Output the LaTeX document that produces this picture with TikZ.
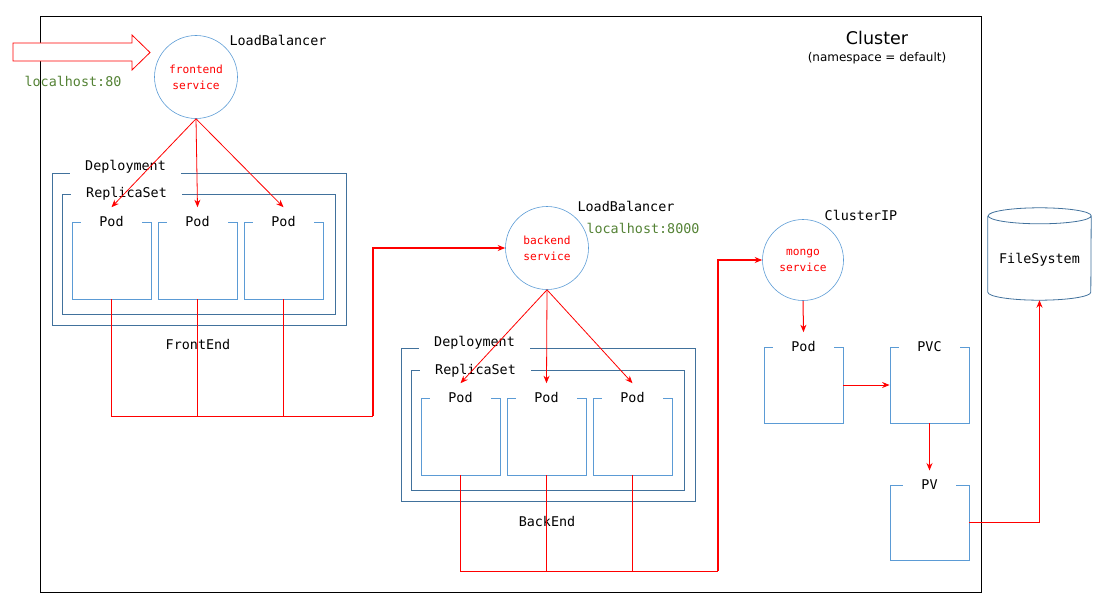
\documentclass[tikz,border=0pt]{standalone}
\usepackage{fontspec}
\setmainfont{DejaVu Sans}
\setmonofont{DejaVu Sans Mono}
\usepackage{xcolor}
\usetikzlibrary{
		positioning,
		arrows.meta
	}
\tikzset{
		>={Stealth[length=7.5pt, width=6pt]}
	}
\definecolor{podblue}{HTML}{5B9BD5}
\definecolor{depblue}{HTML}{41719C}
\definecolor{hostgreen}{HTML}{548235}

\begin{document}
\begin{tikzpicture}[x=1pt, y=-1pt,
		mono/.style={font=\ttfamily\fontsize{13.4}{16}\selectfont, inner sep=2pt},
		gap/.style={mono, fill=white, inner xsep=15pt},
		podlabel/.style={gap, inner xsep=18pt},
		pod/.style={draw=podblue, line width=0.8pt, minimum width=79pt, minimum height=77pt},
		deploy/.style={draw=depblue, line width=0.8pt},
		service/.style={circle, draw=podblue, line width=0.6pt, minimum size=83pt, align=center, text=red, font=\ttfamily\fontsize{11.2}{16}\selectfont},
		flow/.style={draw=red, line width=1pt},
		host/.style={mono, text=hostgreen}]
	\useasboundingbox (0,0) rectangle (1107,610);
	\node[draw, line width=0.6pt, minimum width=941pt, minimum height=576pt] (cluster) at (510.5,304) {};
	\node[font=\fontsize{17.5}{20}\selectfont] (clustertitle) at (877,38) {Cluster};
	\node[font=\fontsize{12}{14}\selectfont] (ns) at (877,58) {(namespace = default)};
	\draw[red, line width=0.8pt, fill=white] (13,43) -- (132,43) -- (132,35) -- (150,52.5) -- (132,70) -- (132,61) -- (13,61) -- cycle;
	\node[host] (fhost) at (73,81) {localhost:80};
	\node[service] (fe) at (196,77) {frontend\\service};
	\node[mono] (felb) at (278,40) {LoadBalancer};
	\node[deploy, minimum width=294pt, minimum height=152pt] (fdep) at (199,249) {};
	\node[deploy, minimum width=273pt, minimum height=120pt] (frs) at (198.5,254) {};
	\node[pod] (fp1) at (111.5,260.5) {};
	\node[pod] (fp2) at (197.5,260.5) {};
	\node[pod] (fp3) at (283.5,260.5) {};
	\node[gap, anchor=west] (fdepl) at (70,167) {Deployment};
	\node[gap, anchor=west] (frsl) at (71,194) {ReplicaSet};
	\foreach \p in {fp1, fp2, fp3}
		\node[podlabel] (\p l) at (\p.north) {Pod};
	\node[mono] (fename) at (198,345) {FrontEnd};
	\node[service] (be) at (547,248) {backend\\service};
	\node[mono] (belb) at (626,206) {LoadBalancer};
	\node[host] (behost) at (643,228) {localhost:8000};
	\node[deploy, minimum width=294pt, minimum height=153pt] (bdep) at (548,424.5) {};
	\node[deploy, minimum width=273pt, minimum height=120pt] (brs) at (547.5,430) {};
	\node[pod] (bp1) at (460.5,436.5) {};
	\node[pod] (bp2) at (546.5,436.5) {};
	\node[pod] (bp3) at (632.5,436.5) {};
	\node[gap, anchor=west] (bdepl) at (419,343) {Deployment};
	\node[gap, anchor=west] (brsl) at (420,371) {ReplicaSet};
	\foreach \p in {bp1, bp2, bp3}
		\node[podlabel] (\p l) at (\p.north) {Pod};
	\node[mono] (bename) at (547,521) {BackEnd};
	\node[service, minimum size=81pt] (mongo) at (803,260) {mongo\\service};
	\node[mono] (mongoip) at (861,215) {ClusterIP};
	\node[pod, minimum height=76pt] (mpod) at (803.5,385) {};
	\node[pod, minimum height=76pt] (pvc) at (929.5,385) {};
	\node[pod, minimum height=75pt] (pv) at (929.5,522.5) {};
	\node[podlabel] (mpodl) at (mpod.north) {Pod};
	\node[podlabel] (pvcl) at (pvc.north) {PVC};
	\node[podlabel] (pvl) at (pv.north) {PV};
	\node[mono, minimum width=103pt, minimum height=92pt, text height=22pt, text depth=3pt] (fs) at (1039.5,254) {FileSystem};
	\draw[deploy] ([yshift=-8pt]fs.north west) -- ([yshift=8pt]fs.south west)
		arc[start angle=180, end angle=360, x radius=51.5pt, y radius=8pt] -- ([yshift=-8pt]fs.north east)
		arc[start angle=0, end angle=180, x radius=51.5pt, y radius=8pt]
		arc[start angle=180, end angle=360, x radius=51.5pt, y radius=8pt];
	\foreach \p in {fp1l, fp2l, fp3l}
		\draw[flow, line width=0.8pt, ->] (fe.south) -- ([yshift=7pt]\p.north);
	\foreach \p in {bp1l, bp2l, bp3l}
		\draw[flow, line width=0.8pt, ->] (be.south) -- ([yshift=7pt]\p.north);
	\coordinate (fjoin) at (373,416);
	\draw[flow] (fp1.south) |- (fjoin);
	\draw[flow] (fp2.south) -- (fp2.south |- fjoin);
	\draw[flow] (fp3.south) -- (fp3.south |- fjoin);
	\draw[flow, line width=1.3pt, ->] (fjoin) |- (be.west);
	\coordinate (bjoin) at (718,571);
	\draw[flow] (bp1.south) |- (bjoin);
	\draw[flow] (bp2.south) -- (bp2.south |- bjoin);
	\draw[flow] (bp3.south) -- (bp3.south |- bjoin);
	\draw[flow, line width=1.3pt, ->] (bjoin) |- (mongo.west);
	\draw[flow, ->] (mongo.south) -- ([yshift=7pt]mpodl.north);
	\draw[flow, ->] (mpod.east) -- (pvc.west);
	\draw[flow, ->] (pvc.south) -- ([yshift=7pt]pvl.north);
	\draw[flow, ->] (pv.east) -| (fs.south);
\end{tikzpicture}
\end{document}
